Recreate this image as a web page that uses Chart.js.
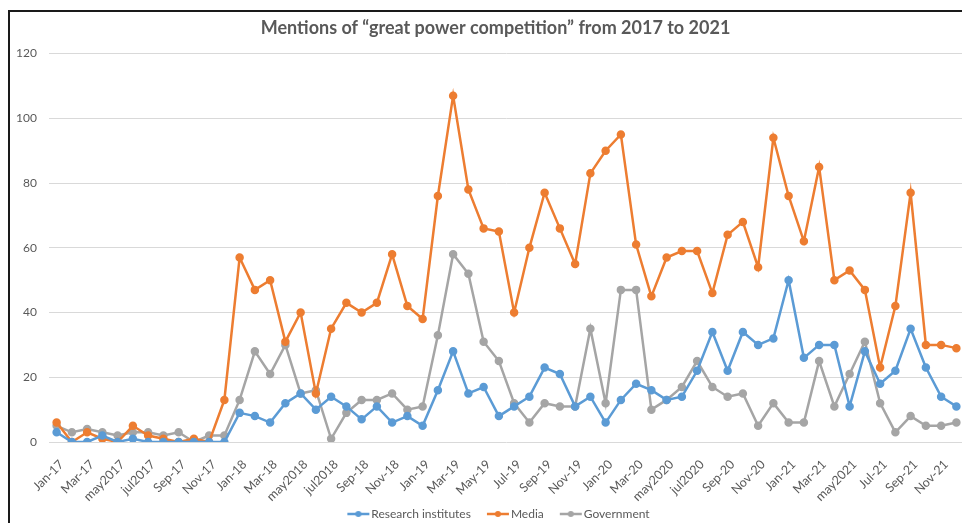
<!DOCTYPE html>
<html>
<head>
<meta charset="utf-8">
<script src="https://cdn.jsdelivr.net/npm/chart.js@4.4.1/dist/chart.umd.min.js"></script>
<style>
  html, body { margin: 0; padding: 0; width: 962px; height: 523px; overflow: hidden; background: #fff; }
  #frame { position: absolute; left: 8px; top: 10px; width: 980px; height: 520px; border-left: 2px solid #1a1a1a; border-top: 2px solid #1a1a1a; }
  #c { position: absolute; left: 10px; top: 12px; }
</style>
</head>
<body>
<div id="frame"></div>
<canvas id="c" width="971" height="518"></canvas>
<script>
const months = [
  "Jan-17","Feb-17","Mar-17","Apr-17","may2017","Jun-17","jul2017","Aug-17","Sep-17","Oct-17","Nov-17","Dec-17",
  "Jan-18","Feb-18","Mar-18","Apr-18","may2018","Jun-18","jul2018","Aug-18","Sep-18","Oct-18","Nov-18","Dec-18",
  "Jan-19","Feb-19","Mar-19","Apr-19","May-19","Jun-19","Jul-19","Aug-19","Sep-19","Oct-19","Nov-19","Dec-19",
  "Jan-20","Feb-20","Mar-20","Apr-20","may2020","Jun-20","jul2020","Aug-20","Sep-20","Oct-20","Nov-20","Dec-20",
  "Jan-21","Feb-21","Mar-21","Apr-21","may2021","Jun-21","Jul-21","Aug-21","Sep-21","Oct-21","Nov-21","Dec-21"
];
const research = [
  3,0,0,2,0,1,0,0,0,0,0,0,
  9,8,6,12,15,10,14,11,7,11,6,8,
  5,16,28,15,17,8,11,14,23,21,11,14,
  6,13,18,16,13,14,22,34,22,34,30,32,
  50,26,30,30,11,28,18,22,35,23,14,11
];
const media = [
  6,0,3,1,0,5,2,1,0,1,0,13,
  57,47,50,31,40,15,35,43,40,43,58,42,
  38,76,107,78,66,65,40,60,77,66,55,83,
  90,95,61,45,57,59,59,46,64,68,54,94,
  76,62,85,50,53,47,23,42,77,30,30,29
];
const government = [
  5,3,4,3,2,3,3,2,3,0,2,2,
  13,28,21,30,15,16,1,9,13,13,15,10,
  11,33,58,52,31,25,12,6,12,11,11,35,
  12,47,47,10,13,17,25,17,14,15,5,12,
  6,6,25,11,21,31,12,3,8,5,5,6
];
const yTicks = [0, 20, 40, 60, 80, 100, 120];

const seriesNames = ["Research institutes", "Media", "Government"];
const seriesColors = ["#5B9BD5", "#ED7D31", "#A5A5A5"];

function legendIcon(color) {
  const cv = document.createElement('canvas');
  cv.width = 40; cv.height = 8;
  const g = cv.getContext('2d');
  g.strokeStyle = color; g.lineWidth = 2.5;
  g.beginPath(); g.moveTo(14, 4); g.lineTo(36, 4); g.stroke();
  g.fillStyle = color;
  g.beginPath(); g.arc(25, 4, 3, 0, Math.PI * 2); g.fill();
  return cv;
}

const txt = '#595959';
const fontFam = 'Lato, "Open Sans", sans-serif';

const data = {
  labels: months,
  datasets: [research, media, government].map((vals, i) => ({
    label: seriesNames[i],
    data: vals,
    borderColor: seriesColors[i],
    backgroundColor: seriesColors[i],
    borderWidth: 2.5,
    pointRadius: 3,
    pointHoverRadius: 3,
    tension: 0,
    yAxisID: 'y'
  }))
};

// let rotated x labels extend below the axis box (no clipping)
const noLabelClip = {
  id: 'noLabelClip',
  beforeDraw(chart) {
    const s = chart.scales.x;
    if (s) s._computeLabelArea = () => undefined;
  }
};

new Chart(document.getElementById('c'), {
  type: 'line',
  data,
  plugins: [noLabelClip],
  options: {
    responsive: false,
    animation: false,
    layout: { padding: 0 },
    plugins: {
      title: {
        display: true,
        text: 'Mentions of “great power competition” from 2017 to 2021',
        color: txt,
        font: { family: fontFam, size: 18, weight: 'bold' },
        padding: { top: 5, bottom: 15 }
      },
      legend: {
        position: 'bottom',
        labels: {
          color: txt,
          font: { family: fontFam, size: 12 },
          usePointStyle: true,
          pointStyleWidth: 24,
          padding: 10,
          generateLabels: (chart) => chart.data.datasets.map((ds, i) => ({
            text: ds.label,
            fillStyle: ds.borderColor,
            strokeStyle: ds.borderColor,
            fontColor: txt,
            pointStyle: legendIcon(ds.borderColor),
            lineWidth: 0,
            datasetIndex: i,
            hidden: false
          }))
        }
      },
      tooltip: { enabled: false }
    },
    scales: {
      x: {
        offset: true,
        grid: { display: false },
        border: { display: false },
        ticks: {
          autoSkip: false,
          maxRotation: 45,
          minRotation: 45,
          color: txt,
          font: { family: fontFam, size: 12.5 },
          padding: 7,
          labelOffset: 5,
          callback: function(v, idx) { return idx % 2 === 0 ? months[idx] : ''; }
        },
        afterFit: (s) => { s.height = 56; }
      },
      y: {
        min: 0,
        max: 120,
        afterBuildTicks: (s) => { s.ticks = yTicks.map(v => ({ value: v })); },
        grid: { color: '#d9d9d9', drawTicks: false, lineWidth: 1 },
        border: { display: false },
        ticks: {
          color: txt,
          font: { family: fontFam, size: 12 },
          padding: 12
        },
        afterFit: (s) => { s.width = 39; }
      },
      yRight: {
        position: 'right',
        display: true,
        min: 0,
        max: 120,
        grid: { display: false, drawTicks: false },
        border: { display: false },
        ticks: { display: false },
        afterFit: (s) => { s.width = 17; }
      }
    }
  }
});
</script>
</body>
</html>
